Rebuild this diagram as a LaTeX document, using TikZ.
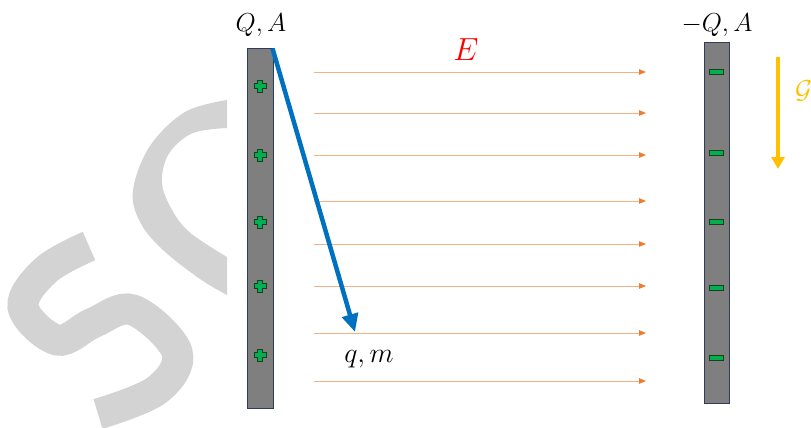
\RequirePackage{fix-cm}
\documentclass[tikz,border=0pt]{standalone}
\usetikzlibrary{arrows.meta}
\definecolor{wm}{RGB}{211,211,211}
\definecolor{platefill}{RGB}{127,127,127}
\definecolor{plateline}{RGB}{47,61,90}
\definecolor{chgreen}{RGB}{0,176,80}
\definecolor{chdark}{RGB}{30,60,30}
\definecolor{fieldline}{RGB}{244,177,131}
\definecolor{fieldtip}{RGB}{237,125,49}
\definecolor{pathblue}{RGB}{0,112,192}
\definecolor{gold}{RGB}{255,192,0}
\tikzset{
  plate/.style={draw=plateline, line width=1pt, fill=platefill, inner sep=0pt, minimum width=26pt},
  minusbox/.style={draw=chdark, line width=0.8pt, fill=chgreen, inner sep=0pt, minimum width=14pt, minimum height=5pt},
  fieldarrow/.style={draw=fieldline, line width=0.9pt, -{Triangle[length=7pt,width=5.5pt,color=fieldtip]}},
  lbl/.style={inner sep=0pt, anchor=base},
  plussign/.pic={\filldraw[fill=chgreen, draw=chdark, line width=0.8pt]
     (-6,-2.2) -- (-2.2,-2.2) -- (-2.2,-6) -- (2.2,-6) -- (2.2,-2.2) -- (6,-2.2) -- (6,2.2) -- (2.2,2.2) -- (2.2,6) -- (-2.2,6) -- (-2.2,2.2) -- (-6,2.2) -- cycle;}
}
\begin{document}
\begin{tikzpicture}[x=1pt,y=-1pt]
\useasboundingbox (0,0) rectangle (811,428);
% watermark
\draw[wm, line width=31pt] plot[smooth, tension=0.6] coordinates {(89,246) (46,270) (23,307) (57,340) (93,323) (133,310) (177,352) (157,390) (98,414)};
\fill[wm] plot[smooth, tension=0.6] coordinates {(227,100) (185,112) (150,146) (133,190) (140,222) (163,250) (200,279) (227,295)}
  -- plot[smooth, tension=0.6] coordinates {(227,257) (187,230) (167,200) (162,177) (170,152) (193,133) (227,128)} -- cycle;
% plates
\node[plate, minimum height=359pt] (lp) at (260,228.5) {};
\node[plate, minimum width=25pt, minimum height=360pt] (rp) at (716.5,223) {};
% charges
\foreach \y in {86,155,222,286,355} \pic at (260,\y) {plussign};
\foreach \y [count=\i] in {72,153,222,288,358} \node[minusbox] (m\i) at (716,\y) {};
% labels
\node[lbl, font=\fontsize{26}{30}\selectfont] (qa) at (261,32) {$Q,A$};
\node[lbl, font=\fontsize{26}{30}\selectfont] (mqa) at (717,32) {$-Q,A$};
\node[lbl, font=\fontsize{32}{38}\selectfont, text=red] (E) at (466,61) {$E$};
\node[lbl, font=\fontsize{28}{34}\selectfont] (qm) at (369,362) {$q,m$};
\node[lbl, anchor=base west, font=\fontsize{26}{30}\selectfont, text=gold] (G) at (795,98) {$\mathcal{G}$};
% field lines
\foreach \y [count=\i] in {72,113,155,201,244,286,333,381} {
  \coordinate (fs\i) at (314,\y);
  \coordinate (fe\i) at (646,\y);
  \draw[fieldarrow] (fs\i) -- (fe\i);
}
% trajectory
\coordinate (tip) at (355,332);
\draw[pathblue, line width=4.5pt, -{Triangle[length=18pt,width=16pt]}] (lp.north east) ++(-1,0) coordinate (st) (st) -- (tip);
% gravity
\coordinate (g1) at (778,57);
\coordinate (g2) at (778,169);
\draw[gold, line width=3.5pt, -{Triangle[length=12pt,width=13pt]}] (g1) -- (g2);
\end{tikzpicture}
\end{document}
